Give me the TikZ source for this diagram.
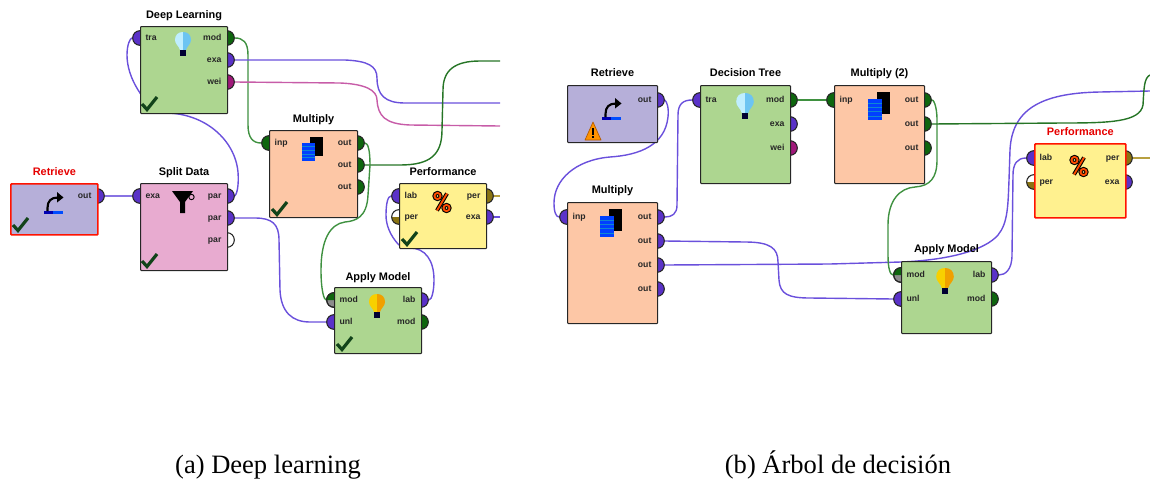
\documentclass[tikz,border=0pt]{standalone}
\usepackage{fontspec}
\setmainfont{Liberation Serif}
\setsansfont{Liberation Sans}
\usetikzlibrary{positioning}
\pgfdeclarelayer{wires}
\pgfdeclarelayer{ports}
\pgfsetlayers{wires,ports,main}
\definecolor{opviolet}{HTML}{B6AFD9}
\definecolor{opgreen}{HTML}{ADD690}
\definecolor{oppink}{HTML}{E8ABD0}
\definecolor{opsalmon}{HTML}{FDC7A6}
\definecolor{opyellow}{HTML}{FFF18F}
\definecolor{pv}{HTML}{5A32C8}
\definecolor{pg}{HTML}{0E660E}
\definecolor{pm}{HTML}{A0187A}
\definecolor{pk}{HTML}{8A7412}
\definecolor{wv}{HTML}{6A50DC}
\definecolor{wg}{HTML}{3F9140}
\definecolor{wp}{HTML}{C75CA8}
\definecolor{wk}{HTML}{B8A040}
\definecolor{chk}{HTML}{12431A}
\definecolor{bulbpale}{HTML}{BFEEFF}
\definecolor{bulbblue}{HTML}{6CC4F2}
\definecolor{bulbyel}{HTML}{F8D000}
\definecolor{bulborg}{HTML}{F0A000}
\tikzset{
  opbox/.style n args={3}{rectangle, anchor=north west, draw=black!85, line width=0.8pt, rounded corners=0.6pt, inner sep=0pt, minimum width=#1*0.75pt, minimum height=#2*0.75pt, fill=#3},
  redbox/.style={draw=red!85!orange, line width=1.3pt},
  optitle/.style={font=\sffamily\bfseries\fontsize{8.2}{9}\selectfont, inner sep=0pt, text height=6.5pt, text depth=1.5pt},
  redtitle/.style={optitle, text=red!90!black},
  port/.style={circle, draw=black!85, line width=0.8pt, inner sep=0pt, minimum size=11pt},
  halfport/.style={port, fill=white, path picture={\fill[#1] (path picture bounding box.west) rectangle (path picture bounding box.south east);}},
  portlab/.style={font=\sffamily\bfseries\fontsize{6.5}{8}\selectfont, inner sep=0pt, text=black!85, text height=5pt, text depth=1pt},
  wire/.style={#1, line width=1.05pt},
  caption/.style={font=\fontsize{19.9}{22}\selectfont, inner sep=0pt, anchor=base},
  pics/okmark/.style={code={\draw[chk, line width=2.4pt] (0,7) -- (5,12.5) -- (15,0);}},
  pics/bulb/.style n args={2}{code={
    \fill[#1] (0,0) .. controls (-5,0) and (-8,3) .. (-8,8) .. controls (-8,12) and (-4,14) .. (-3,18) -- (0,18) -- cycle;
    \fill[#2] (0,0) .. controls (5,0) and (8,3) .. (8,8) .. controls (8,12) and (4,14) .. (3,18) -- (0,18) -- cycle;
    \fill[black!80!blue] (-3,18) rectangle (3,24);}},
  pics/retrieveicon/.style={code={
    \fill[blue!70!black] (0,0) rectangle (9,3);
    \fill[blue!70!cyan] (9,0) rectangle (18.5,3);
    \draw[black, line width=1.6pt] (3.5,0) -- (3.5,-3) .. controls (3.5,-10) and (7,-13.5) .. (14,-13.5);
    \fill[black] (13,-19) -- (19.5,-13.5) -- (13,-8.5) -- cycle;}},
  pics/funnelicon/.style={code={
    \fill[black] (0,0) -- (21,0) -- (13,11) -- (13,22) -- (8,22) -- (8,11) -- cycle;
    \draw[black, line width=0.7pt] (19.5,6) circle (2pt);}},
  pics/stackicon/.style={code={
    \fill[black] (8,0) rectangle (20.5,19);
    \fill[blue!75!cyan] (0,6) rectangle (13,24);
    \foreach \s in {9.6, 13.2, 16.8, 20.4}
      \draw[cyan!70!blue, line width=0.3pt] (0,\s) -- (13,\s);}},
  pics/percenticon/.style={code={
    \foreach \w/\c in {3pt/black, 1.4pt/orange!60!red}
      {
        \draw[\c, line width=\w] (-4.5,-6) circle (2.3pt);
        \draw[\c, line width=\w] (4.5,6) circle (2.3pt);
        \draw[\c, line width=\w] (5,-8.5) -- (-5,8.5);
      }}},
  pics/warnicon/.style={code={
    \filldraw[fill=orange!85!yellow, draw=orange!70!black, line width=0.5pt, line join=round] (0,18) -- (8,0) -- (16,18) -- cycle;
    \fill[black] (7.2,6) rectangle (8.8,12.5);
    \fill[black] (7.2,14) rectangle (8.8,16);}}
}
\begin{document}
\begin{tikzpicture}[x=0.75pt, y=-0.75pt]
  \useasboundingbox (0,0) rectangle (1150,479);

  % left workflow
  \node[opbox={87}{51}{opviolet}, redbox] (retl) at (10,183) {};
  \node[opbox={87}{87}{opgreen}] (dl) at (140,26) {};
  \node[opbox={87}{87}{oppink}] (split) at (140,183) {};
  \node[opbox={88}{87}{opsalmon}] (mull) at (269,130) {};
  \node[opbox={87}{65}{opyellow}] (perfl) at (399,183) {};
  \node[opbox={87}{66}{opgreen}] (appl) at (334,287) {};

  % right workflow
  \node[opbox={90}{57}{opviolet}] (retr) at (567,85) {};
  \node[opbox={90}{98}{opgreen}] (dt) at (700,85) {};
  \node[opbox={90}{121}{opsalmon}] (mulr) at (567,202) {};
  \node[opbox={90}{98}{opsalmon}] (mulb) at (834,85) {};
  \node[opbox={91}{74}{opyellow}, redbox] (perfr) at (1034,143) {};
  \node[opbox={90}{72}{opgreen}] (appr) at (901,261) {};

  \node[redtitle, above=4.2pt of retl] (retlt) {Retrieve};
  \node[optitle, above=4.2pt of dl] (dlt) {Deep Learning};
  \node[optitle, above=4.2pt of split] (splitt) {Split Data};
  \node[optitle, above=4.2pt of mull] (mullt) {Multiply};
  \node[optitle, above=4.2pt of perfl] (perflt) {Performance};
  \node[optitle, above=3.5pt of appl] (applt) {Apply Model};
  \node[optitle, above=5pt of retr] (retrt) {Retrieve};
  \node[optitle, above=5pt of dt] (dtt) {Decision Tree};
  \node[optitle, above=5pt of mulr] (mulrt) {Multiply};
  \node[optitle, above=5pt of mulb] (mulbt) {Multiply (2)};
  \node[redtitle, above=4.2pt of perfr] (perfrt) {Performance};
  \node[optitle, above=5pt of appr] (apprt) {Apply Model};

  % input ports
  \foreach \n/\x/\y/\c/\t in {dltra/140/38/pv/tra, spexa/140/196/pv/exa, mlinp/269/143/pg/inp,
      lbl/399/196/pv/lab, aunl/334/322/pv/unl, dttra/700/100/pv/tra, mrinp/567/217/pv/inp,
      mbinp/834/100/pg/inp, lbr/1034/158/pv/lab, bunl/901/299/pv/unl}
    {
      \begin{pgfonlayer}{ports}
        \node[port, fill=\c] (\n) at (\x,\y) {};
      \end{pgfonlayer}
      \node[portlab, right=4pt of \n.center] (\n t) {\t};
    }

  % half filled input ports
  \foreach \n/\x/\y/\c/\t in {perl/399/217/pk/per, amod/334/300/black!45/mod, perr/1034/182/pk/per, bmod/901/275/black!45/mod}
    {
      \begin{pgfonlayer}{ports}
        \node[halfport=\c] (\n) at (\x,\y) {};
      \end{pgfonlayer}
      \node[portlab, right=4pt of \n.center] (\n t) {\t};
    }
  \begin{pgfonlayer}{ports}
    \fill[pg] (amod.west) arc (180:0:5.5pt) -- cycle;
    \fill[pg] (bmod.west) arc (180:0:5.5pt) -- cycle;
    \draw[draw=black!85, line width=0.8pt] (amod) circle (5.5pt);
    \draw[draw=black!85, line width=0.8pt] (bmod) circle (5.5pt);
  \end{pgfonlayer}

  % output ports
  \foreach \n/\x/\y/\c/\t in {rlout/97/196/pv/out, dlmod/227/38/pg/mod, dlexa/227/60/pv/exa, dlwei/227/82/pm/wei,
      sppa/227/196/pv/par, sppb/227/218/pv/par, sppc/227/240/white/par,
      mla/357/143/pg/out, mlb/357/165/pg/out, mlc/357/187/pg/out,
      plper/486/196/pk/per, plexa/486/217/pv/exa, alab/421/300/pv/lab, aomod/421/322/pg/mod,
      rrout/657/100/pv/out, dtmod/790/100/pg/mod, dtexa/790/124/pv/exa, dtwei/790/148/pm/wei,
      mra/657/217/pv/out, mrb/657/241/pv/out, mrc/657/265/pv/out, mrd/657/289/pv/out,
      mba/924/100/pg/out, mbb/924/124/pg/out, mbc/924/148/pg/out,
      prper/1125/158/pk/per, prexa/1125/182/pv/exa, blab/991/275/pv/lab, bomod/991/299/pg/mod}
    {
      \begin{pgfonlayer}{ports}
        \node[port, fill=\c] (\n) at (\x,\y) {};
      \end{pgfonlayer}
      \node[portlab, left=4pt of \n.center] (\n t) {\t};
    }

  \coordinate (endlexa) at (500,103);
  \coordinate (endlwei) at (500,126);
  \coordinate (endlmul) at (500,61);
  \coordinate (endlper) at (500,196);
  \coordinate (endlpex) at (500,217);
  \coordinate (endrgrn) at (1150,75);
  \coordinate (endrvio) at (1150,91);
  \coordinate (endrper) at (1150,158);

  \begin{pgfonlayer}{wires}
    % left wires
    \draw[wire=wv!80] (rlout) -- (spexa);
    \draw[wire=wv] (sppa.east) .. controls (237,194) and (239,185) .. (238,172)
      .. controls (235,140) and (205,113) .. (165,113) .. controls (150,113) and (150,108) .. (140,93)
      .. controls (130,78) and (127,65) .. (127,55) .. controls (127,45) and (130,38) .. (dltra.west);
    \draw[wire=wv] (sppb.east) -- (255,218) .. controls (272,218) and (279,224) .. (279,240) -- (280,290)
      .. controls (281,312) and (292,322) .. (310,322) -- (aunl.west);
    \draw[wire=wg] (dlmod.east) .. controls (243,38) and (248,42) .. (248,55) -- (248,125)
      .. controls (248,138) and (253,143) .. (mlinp.west);
    \draw[wire=wv] (dlexa.east) -- (345,60) .. controls (368,61) and (377,66) .. (377,78)
      .. controls (377,95) and (385,103) .. (405,103) -- (endlexa);
    \draw[wire=wp] (dlwei.east) -- (340,83) .. controls (365,84) and (377,90) .. (377,100)
      .. controls (378,116) and (385,124) .. (410,125) -- (endlwei);
    \draw[wire=pg!90!white] (mlb.east) -- (400,165) .. controls (430,165) and (442,155) .. (442,130) -- (443,90)
      .. controls (443,70) and (455,61) .. (480,61) -- (endlmul);
    \draw[wire=wg] (mla.east) .. controls (368,143) and (370,150) .. (370,165) -- (368,195)
      .. controls (367,218) and (355,221) .. (345,222) .. controls (330,224) and (321,240) .. (321,270)
      .. controls (321,290) and (324,300) .. (amod.west);
    \draw[wire=wv] (alab.east) .. controls (432,300) and (434,290) .. (434,280) .. controls (434,260) and (425,248) .. (410,248)
      .. controls (405,248) and (402,248) .. (398,244) .. controls (390,235) and (386,225) .. (386,215)
      .. controls (386,203) and (388,196) .. (lbl.west);
    \draw[wire=wk] (plper) -- (endlper);
    \draw[wire=wv] (plexa) -- (endlpex);

    % right wires
    \draw[wire=wv] (rrout.east) .. controls (667,102) and (669,108) .. (668,117) .. controls (665,145) and (640,155) .. (610,157)
      .. controls (575,160) and (554,180) .. (554,203) .. controls (554,212) and (556,217) .. (mrinp.west);
    \draw[wire=wv] (mra.east) .. controls (672,217) and (677,214) .. (677,205) -- (678,115)
      .. controls (678,104) and (683,100) .. (dttra.west);
    \draw[wire=wg] (dtmod) -- (mbinp);
    \draw[wire=wv] (mrb.east) -- (745,242) .. controls (770,242) and (778,248) .. (778,262) -- (779,280)
      .. controls (780,294) and (788,298) .. (810,298) -- (bunl.west);
    \draw[wire=wv] (mrc.east) -- (830,264) -- (901,262) .. controls (950,260) and (985,250) .. (998,235)
      .. controls (1008,223) and (1008,205) .. (1009,180) -- (1010,150) .. controls (1012,110) and (1040,93) .. (1100,92) -- (endrvio);
    \draw[wire=wg] (mba.east) .. controls (933,99) and (937,105) .. (937,120) -- (937,160)
      .. controls (937,178) and (930,186) .. (915,187) .. controls (900,188) and (888,200) .. (888,225) -- (888,255)
      .. controls (888,268) and (890,275) .. (bmod.west);
    \draw[wire=pg!90!white] (mbb.east) -- (1063,123) .. controls (1110,123) and (1140,122) .. (1143,105)
      .. controls (1144,88) and (1144,78) .. (endrgrn);
    \draw[wire=wv] (blab.east) .. controls (1005,275) and (1012,270) .. (1012,255) -- (1013,175)
      .. controls (1013,164) and (1017,158) .. (lbr.west);
    \draw[wire=wk] (prper) -- (endrper);
  \end{pgfonlayer}

  % icons
  \pic at (183,32) {bulb={bulbpale}{bulbblue}};
  \pic at (377,294) {bulb={bulbyel}{bulborg}};
  \pic[scale=1.1] at (745,93) {bulb={bulbpale}{bulbblue}};
  \pic[scale=1.1] at (945,268) {bulb={bulbyel}{bulborg}};
  \pic at (44,211) {retrieveicon};
  \pic at (602,117) {retrieveicon};
  \pic at (172,191) {funnelicon};
  \pic at (302,137) {stackicon};
  \pic[xscale=1.08, yscale=1.17] at (600,209) {stackicon};
  \pic[xscale=1.08, yscale=1.17] at (868,92) {stackicon};
  \pic at (442,202) {percenticon};
  \pic at (1079,166) {percenticon};
  \pic at (585,122) {warnicon};
  \pic at (13,218) {okmark};
  \pic at (142,97) {okmark};
  \pic at (142,254) {okmark};
  \pic at (272,202) {okmark};
  \pic at (402,232) {okmark};
  \pic at (337,337) {okmark};

  \node[caption] (capa) at (268,473) {(a) Deep learning};
  \node[caption] (capb) at (838,473) {(b) Árbol de decisión};
\end{tikzpicture}
\end{document}
